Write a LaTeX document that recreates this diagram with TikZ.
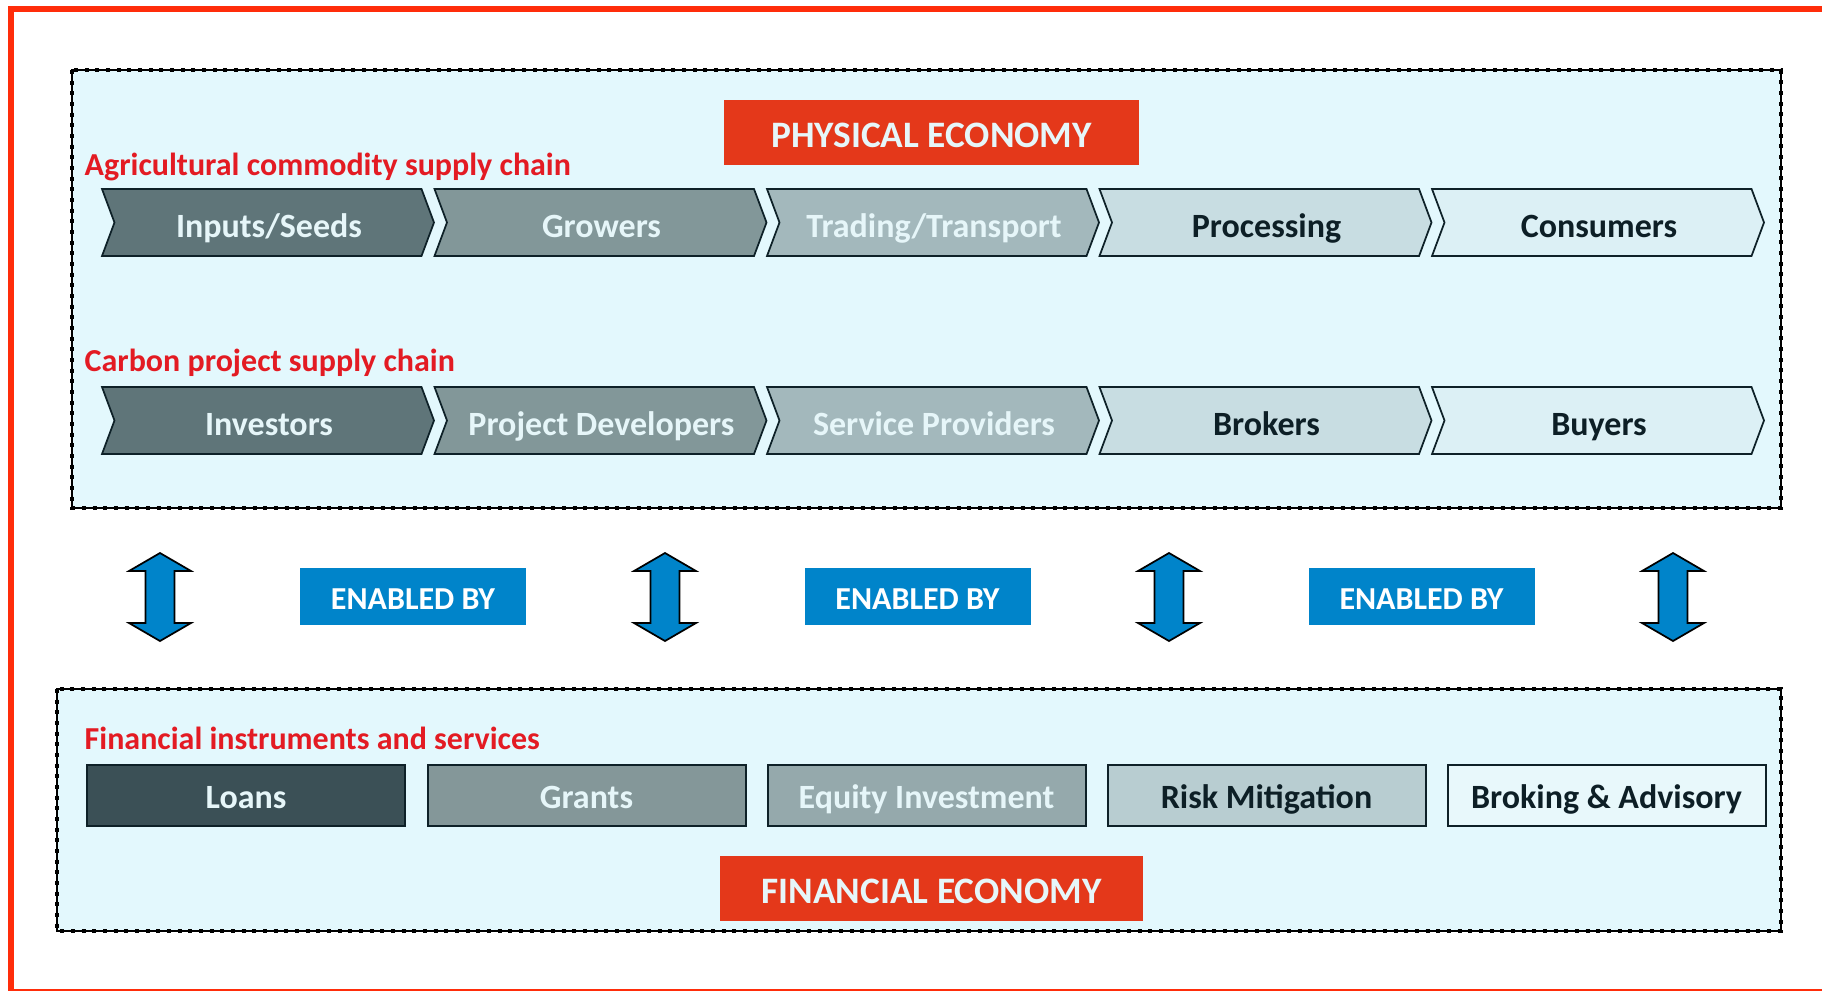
\documentclass[tikz,border=0pt]{standalone}
\usepackage{fontspec}
\setmainfont{Carlito}
\definecolor{framered}{RGB}{255,45,10}
\definecolor{panelbg}{RGB}{227,248,253}
\definecolor{labelred}{RGB}{228,56,26}
\definecolor{headred}{RGB}{227,27,35}
\definecolor{enblue}{RGB}{0,132,202}
\definecolor{lighttext}{RGB}{230,246,249}
\definecolor{darktext}{RGB}{13,31,38}
\definecolor{edge}{RGB}{14,33,40}
\definecolor{shadeA}{RGB}{95,117,121}
\definecolor{shadeB}{RGB}{130,151,153}
\definecolor{shadeC}{RGB}{163,184,188}
\definecolor{shadeD}{RGB}{200,221,226}
\definecolor{shadeE}{RGB}{220,240,245}
\definecolor{loanfill}{RGB}{59,80,86}
\definecolor{grantfill}{RGB}{132,151,153}
\definecolor{equityfill}{RGB}{149,169,172}
\definecolor{riskfill}{RGB}{184,205,209}
\definecolor{brokefill}{RGB}{232,248,251}
\begin{document}
\begin{tikzpicture}[x=0.75pt,y=0.75pt,yscale=-1,
  panel/.style={fill=panelbg, draw=black, line width=0.8pt,
    postaction={draw=black, line width=3pt, dash pattern=on 3pt off 5pt}},
  chev/.style={draw=edge, line width=1.3pt},
  chevtext/.style={anchor=base, font=\fontsize{25.5}{30}\selectfont\bfseries},
  heading/.style={anchor=base west, text=headred, font=\fontsize{24}{29}\selectfont\bfseries},
  ecobox/.style={fill=labelred, text=lighttext, inner sep=0pt, minimum height=48.75pt,
    text height=21.75pt, text depth=0pt, font=\fontsize{28}{33}\selectfont\bfseries},
  enabled/.style={fill=enblue, text=white, inner sep=0pt, minimum width=169.5pt, minimum height=42.75pt,
    text height=18.75pt, text depth=0pt, font=\fontsize{24}{29}\selectfont\bfseries},
  finbox/.style={draw=edge, line width=1.5pt, inner sep=0pt, minimum width=238.5pt, minimum height=45.75pt,
    text height=18.75pt, text depth=0pt, font=\fontsize{25.5}{30}\selectfont\bfseries},
  updown/.style={fill=enblue, draw=black, line width=1.3pt, line join=miter}]
\useasboundingbox (0,0) rectangle (1822,990);

%Shape: Rectangle (outer frame)
\draw [framered, line width=4.5pt] (11,9) rectangle (1840,992);

%Shape: Rectangle (physical economy)
\draw [panel] (72,70) rectangle (1781,508);
%Shape: Rectangle (financial economy)
\draw [panel] (57,689) rectangle (1781,931);

%Shape: Chevrons, both supply chains
\foreach \x/\c in {102/shadeA,434.5/shadeB,767/shadeC,1099.5/shadeD,1432/shadeE}{
  \draw [chev, fill=\c] (\x,189) -- ++(319.5,0) -- ++(12.5,33.5) -- ++(-12.5,33.5) -- ++(-319.5,0) -- ++(12.5,-33.5) -- cycle ;
  \draw [chev, fill=\c] (\x,387) -- ++(319.5,0) -- ++(12.5,33.5) -- ++(-12.5,33.5) -- ++(-319.5,0) -- ++(12.5,-33.5) -- cycle ;
}

%Shape: Up-down arrows
\foreach \x in {160,665,1169,1673}
  \draw [updown] (\x,553) -- ++(31,18) -- ++(-16.5,0) -- ++(0,52) -- ++(16.5,0) -- ++(-31,18) -- ++(-31,-18) -- ++(16.5,0) -- ++(0,-52) -- ++(-16.5,0) -- cycle ;

% Text Node
\node [ecobox, minimum width=311.25pt] (physical) at (931.5,132.5) {PHYSICAL ECONOMY};
% Text Node
\node [ecobox, minimum width=317.25pt] (financial) at (931.5,888.5) {FINANCIAL ECONOMY};

% Text Node
\node [heading] (agrihead) at (80,175) {Agricultural commodity supply chain};
% Text Node
\node [heading] (carbonhead) at (80,371) {Carbon project supply chain};
% Text Node
\node [heading] (finhead) at (80,749) {Financial instruments and services};

% Text Node
\node [chevtext, text=lighttext] (inputs) at (269,237) {Inputs/Seeds};
\node [chevtext, text=lighttext] (growers) at (601.5,237) {Growers};
\node [chevtext, text=lighttext] (trading) at (934,237) {Trading/Transport};
\node [chevtext, text=darktext] (processing) at (1266.5,237) {Processing};
\node [chevtext, text=darktext] (consumers) at (1599,237) {Consumers};

% Text Node
\node [chevtext, text=lighttext] (investors) at (269,435) {Investors};
\node [chevtext, text=lighttext] (developers) at (601.5,435) {Project Developers};
\node [chevtext, text=lighttext] (providers) at (934,435) {Service Providers};
\node [chevtext, text=darktext] (brokers) at (1266.5,435) {Brokers};
\node [chevtext, text=darktext] (buyers) at (1599,435) {Buyers};

% Text Node
\node [enabled] (enabledA) at (413,596.5) {ENABLED BY};
\node [enabled] (enabledB) at (917.5,596.5) {ENABLED BY};
\node [enabled] (enabledC) at (1421.5,596.5) {ENABLED BY};

% Text Node
\node [finbox, fill=loanfill, text=lighttext] (loans) at (246,795.5) {Loans};
\node [finbox, fill=grantfill, text=lighttext] (grants) at (586.5,795.5) {Grants};
\node [finbox, fill=equityfill, text=lighttext] (equity) at (926.5,795.5) {Equity Investment};
\node [finbox, fill=riskfill, text=darktext] (risk) at (1266.5,795.5) {Risk Mitigation};
\node [finbox, fill=brokefill, text=darktext] (broking) at (1606.5,795.5) {Broking \& Advisory};

\end{tikzpicture}
\end{document}
